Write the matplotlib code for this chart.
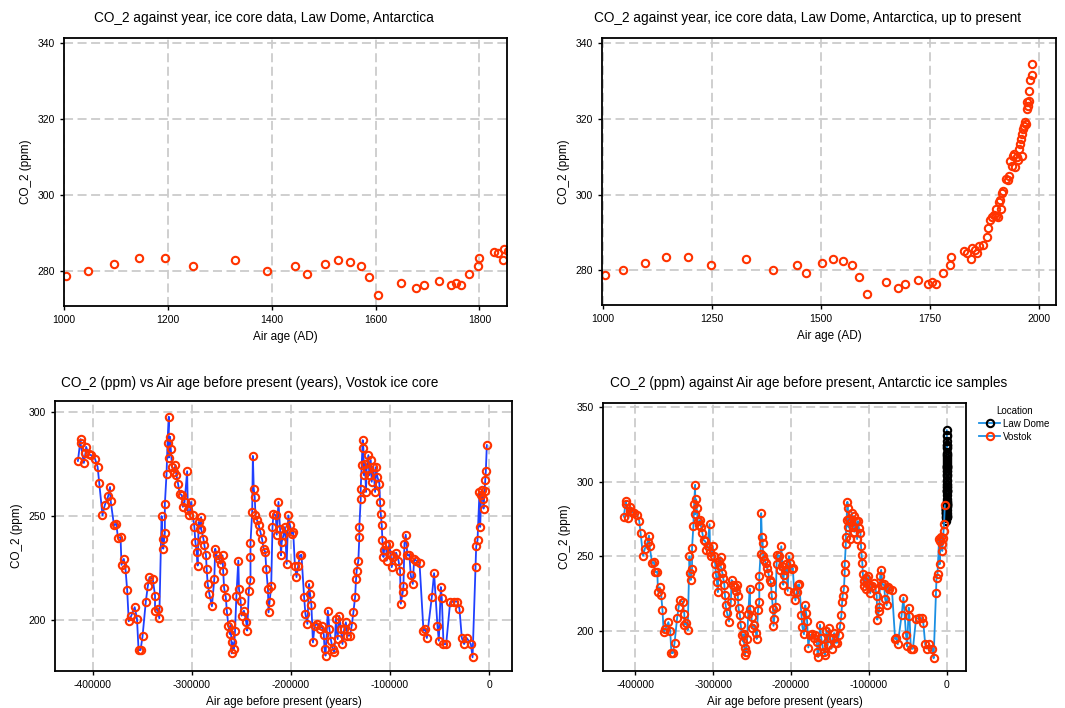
import matplotlib
matplotlib.use('Agg')
import matplotlib.pyplot as plt

plt.rcParams['font.family'] = ['Liberation Sans', 'DejaVu Sans']
plt.rcParams['axes.unicode_minus'] = False

# Law Dome ice core (year AD, CO2 ppm)
law_year = [1004, 1047, 1096, 1145, 1195, 1248, 1329, 1390, 1445, 1467,
            1502, 1527, 1550, 1571, 1588, 1605, 1649, 1678, 1693, 1722,
            1746, 1755, 1764, 1780, 1797, 1799, 1828, 1835, 1845, 1848,
            1854, 1858, 1864, 1872, 1881, 1883, 1889, 1893, 1897, 1901,
            1903, 1906, 1908, 1912, 1913, 1916, 1919, 1925, 1929, 1932,
            1934, 1938, 1940, 1943, 1946, 1950, 1952, 1955, 1957, 1959,
            1961, 1962, 1965, 1966, 1968, 1971, 1972, 1974, 1976, 1977,
            1977, 1980, 1984, 1985]
law_co2 = [278.9, 280.0, 282.0, 283.5, 283.5, 281.4, 283.0, 280.0, 281.4, 279.4,
           282.0, 283.0, 282.5, 281.4, 278.4, 273.9, 277.0, 275.5, 276.4, 277.5,
           276.4, 277.0, 276.4, 279.4, 281.4, 283.5, 285.1, 284.7, 283.0, 286.0,
           285.4, 284.5, 286.5, 286.8, 288.7, 291.2, 293.2, 294.1, 294.6, 294.3,
           296.3, 294.1, 298.0, 298.5, 296.3, 300.3, 301.0, 304.2, 303.8, 304.9,
           309.0, 307.5, 310.3, 310.8, 307.3, 309.8, 309.2, 312.1, 313.4, 314.7,
           310.3, 316.0, 317.4, 318.2, 319.1, 318.5, 322.6, 324.4, 323.5, 324.8,
           327.4, 330.3, 331.6, 334.5]

# Vostok ice core (air age before present in years, CO2 ppm)
vostok_age = [414900, 412200, 412200, 408900, 407300, 406600, 404000, 401700, 397700, 395000,
              393400, 390100, 387800, 384400, 382500, 381800, 378500, 376200, 374500, 371900,
              370900, 368600, 366900, 365200, 363600, 361300, 357600, 355300, 353700, 351700,
              349700, 346400, 344400, 342700, 339400, 337100, 337100, 334500, 332800, 330500,
              329500, 328800, 327200, 327200, 325500, 324500, 323200, 323200, 321900, 321200,
              319900, 317900, 316600, 315600, 313900, 312300, 310000, 309000, 307300, 304700,
              304000, 302400, 300700, 299000, 297400, 296400, 295100, 294100, 293100, 291800,
              290600, 290600, 288300, 287300, 285700, 285000, 284000, 282300, 279700, 277300,
              276400, 275000, 272400, 270700, 269000, 268400, 267400, 265700, 264700, 263100,
              261700, 260700, 259700, 259100, 257400, 256400, 255000, 253100, 252400, 250800,
              249800, 247400, 245100, 244100, 242500, 240800, 240800, 240800, 239100, 238400,
              237500, 236500, 235800, 234100, 232500, 230800, 229200, 227500, 225900, 224900,
              223200, 222600, 221600, 219900, 218600, 217600, 215300, 214300, 212600, 211000,
              210000, 209300, 207600, 206000, 204300, 202700, 201000, 199300, 197700, 196000,
              194400, 192700, 191000, 189400, 186700, 185400, 183400, 181700, 180700, 179400,
              177800, 176100, 173400, 171100, 168800, 166800, 166100, 165100, 162800, 161200,
              159500, 157900, 156200, 154600, 152900, 151300, 149600, 148000, 146300, 144600,
              143000, 140400, 138700, 137000, 135300, 134300, 133700, 132000, 131000, 131000,
              129600, 129600, 128600, 127600, 126900, 126300, 125300, 124300, 123600, 121900,
              120900, 119500, 118500, 116800, 115100, 114100, 112800, 110800, 110100, 109400,
              108400, 107700, 106700, 106100, 104000, 103300, 100700, 99300, 98300, 96600,
              93900, 91500, 89900, 89200, 87200, 86500, 85500, 84200, 82500, 80500,
              79100, 77100, 75700, 73700, 70300, 66300, 64600, 62900, 57900, 55600,
              52200, 50800, 48800, 47800, 46100, 43400, 39400, 35400, 32000, 30000,
              27600, 25300, 22600, 18500, 16800, 13800, 13100, 11800, 9800, 9100,
              8100, 7400, 6400, 5700, 4700, 4000, 3400, 2400]
vostok_co2 = [276.6, 287.1, 285.0, 275.6, 280.2, 283.4, 279.7, 279.4, 277.7, 273.7,
              266.0, 250.3, 255.2, 259.5, 264.0, 257.1, 245.5, 246.3, 239.5, 239.8,
              226.4, 229.3, 224.5, 214.3, 199.2, 201.6, 206.0, 200.3, 185.3, 185.3,
              191.9, 208.7, 216.1, 220.5, 219.7, 211.6, 204.3, 205.2, 200.6, 250.0,
              239.0, 234.2, 241.9, 255.6, 270.2, 285.0, 297.9, 278.2, 288.2, 282.3,
              273.7, 271.3, 274.5, 270.0, 265.6, 260.8, 260.0, 254.4, 256.8, 271.6,
              252.7, 250.3, 256.8, 250.3, 244.7, 237.4, 232.6, 226.1, 247.1, 243.9,
              249.5, 243.9, 239.0, 235.8, 231.0, 224.5, 217.2, 212.4, 206.4, 219.7,
              234.2, 231.0, 229.4, 226.9, 231.0, 223.7, 215.2, 210.8, 204.3, 197.1,
              193.0, 197.9, 183.7, 189.0, 185.8, 194.7, 211.6, 228.5, 214.8, 209.2,
              201.9, 204.3, 198.7, 194.7, 214.0, 219.2, 230.2, 237.1, 251.9, 279.0,
              263.2, 259.2, 250.3, 247.9, 245.5, 242.3, 239.0, 234.2, 232.6, 224.5,
              214.8, 203.5, 208.4, 216.4, 244.7, 251.1, 250.3, 241.0, 256.8, 243.9,
              231.0, 237.4, 240.6, 244.7, 226.9, 250.3, 245.5, 241.5, 242.3, 226.1,
              220.5, 226.1, 231.0, 231.3, 210.8, 202.7, 197.9, 217.2, 212.4, 207.1,
              189.0, 197.1, 197.9, 195.5, 197.1, 192.6, 185.8, 182.6, 204.3, 195.5,
              189.8, 185.8, 184.2, 200.3, 190.6, 201.9, 195.5, 188.2, 195.5, 198.7,
              192.2, 192.3, 197.1, 203.5, 210.8, 219.7, 223.7, 228.5, 239.8, 244.7,
              258.4, 263.2, 274.5, 286.6, 282.6, 269.7, 275.3, 261.6, 272.9, 279.4,
              269.7, 277.0, 266.5, 273.7, 261.6, 273.7, 268.9, 265.6, 256.8, 251.1,
              245.5, 238.2, 230.2, 233.4, 235.8, 228.5, 236.6, 231.0, 225.3, 230.2,
              232.3, 228.5, 223.7, 207.6, 213.2, 216.4, 236.6, 241.0, 231.0, 231.3,
              221.3, 217.2, 229.4, 228.5, 227.4, 194.7, 195.5, 191.1, 210.8, 222.4,
              197.1, 189.8, 215.7, 210.3, 188.2, 188.2, 208.4, 208.7, 208.7, 205.2,
              191.1, 188.2, 191.1, 188.2, 181.8, 225.3, 235.5, 238.2, 261.6, 244.7,
              260.0, 262.7, 258.4, 253.6, 262.0, 267.3, 271.6, 284.2]

red = '#ff3300'
grid_kw = dict(color='#cccccc', linestyle=(0, (5, 2.5)), linewidth=1.3)


def style(ax):
    ax.grid(True, **grid_kw)
    ax.set_axisbelow(True)
    for sp in ax.spines.values():
        sp.set_linewidth(1.3)
    ax.tick_params(labelsize=7.5, length=3, width=1, direction='out')


W, H = 1065, 708
fig = plt.figure(figsize=(W / 100, H / 100), dpi=100)


def rect(l, t, r, b):
    return [l / W, 1 - b / H, (r - l) / W, (b - t) / H]


# top left: Law Dome up to 1853
ax1 = fig.add_axes(rect(64, 38, 507, 306))
early = [i for i, y in enumerate(law_year) if y <= 1855]
ax1.plot([law_year[i] for i in early], [law_co2[i] for i in early], 'o', ms=5.3,
         mfc='none', mec=red, mew=1.5)
ax1.set_xlim(1000, 1853)
ax1.set_ylim(270.9, 341.3)
ax1.set_xticks([1000, 1200, 1400, 1600, 1800])
ax1.set_yticks([280, 300, 320, 340])
style(ax1)
ax1.set_xlabel('Air age (AD)', fontsize=8.5)
ax1.set_ylabel('CO_2 (ppm)', fontsize=8.5)
fig.text(264 / W, 1 - 18 / H, 'CO_2 against year, ice core data, Law Dome, Antarctica',
         ha='center', va='center', fontsize=9.8)

# top right: Law Dome up to present
ax2 = fig.add_axes(rect(602, 38, 1056, 305))
ax2.plot(law_year, law_co2, 'o', ms=5.3, mfc='none', mec=red, mew=1.5)
ax2.set_xlim(997.7, 2039.7)
ax2.set_ylim(270.9, 341.3)
ax2.set_xticks([1000, 1250, 1500, 1750, 2000])
ax2.set_yticks([280, 300, 320, 340])
style(ax2)
ax2.set_xlabel('Air age (AD)', fontsize=8.5)
ax2.set_ylabel('CO_2 (ppm)', fontsize=8.5)
fig.text(807 / W, 1 - 18 / H, 'CO_2 against year, ice core data, Law Dome, Antarctica, up to present',
         ha='center', va='center', fontsize=9.8)

# bottom left: Vostok
vx = [-a for a in vostok_age]
ax3 = fig.add_axes(rect(55, 401, 512, 671))
ax3.plot(vx, vostok_co2, '-o', color='#2040ff', lw=1.3, ms=5.3,
         mfc='none', mec=red, mew=1.5)
ax3.set_xlim(-438000, 23000)
ax3.set_ylim(175.2, 305.5)
ax3.set_xticks([-400000, -300000, -200000, -100000, 0])
ax3.set_yticks([200, 250, 300])
style(ax3)
ax3.set_xlabel('Air age before present (years)', fontsize=8.5)
ax3.set_ylabel('CO_2 (ppm)', fontsize=8.5)
fig.text(250 / W, 1 - 383 / H, 'CO_2 (ppm) vs Air age before present (years), Vostok ice core',
         ha='center', va='center', fontsize=9.8)

# bottom right: both
lx = [-(1950 - y) for y in law_year]
ax4 = fig.add_axes(rect(603, 403, 966, 671))
ax4.plot(lx, law_co2, '-o', color='#1a8fe3', lw=1.3, ms=5.3,
         mfc='none', mec='black', mew=1.5, label='Law Dome')
ax4.plot(vx, vostok_co2, '-o', color='#1a8fe3', lw=1.3, ms=5.3,
         mfc='none', mec=red, mew=1.5, label='Vostok')
ax4.set_xlim(-441600, 24800)
ax4.set_ylim(173.3, 352.7)
ax4.set_xticks([-400000, -300000, -200000, -100000, 0])
ax4.set_yticks([200, 250, 300, 350])
style(ax4)
ax4.set_xlabel('Air age before present (years)', fontsize=8.5)
ax4.set_ylabel('CO_2 (ppm)', fontsize=8.5)
fig.text(809 / W, 1 - 383 / H, 'CO_2 (ppm) against Air age before present, Antarctic ice samples',
         ha='center', va='center', fontsize=9.8)
fig.legend(loc='upper left', bbox_to_anchor=(975 / W, 1 - 402 / H), frameon=False,
           fontsize=7, title='Location', title_fontsize=7, handlelength=2.2,
           handletextpad=0.3, labelspacing=0.3, borderaxespad=0)

fig.savefig('out.png', dpi=100)
